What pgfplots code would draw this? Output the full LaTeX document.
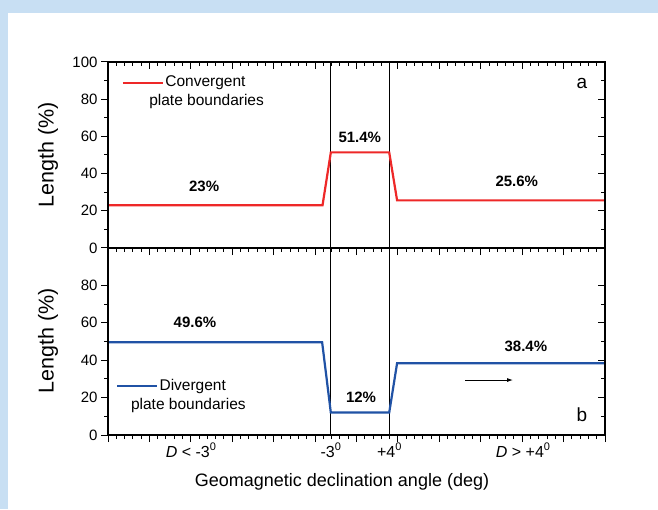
\documentclass[border=0pt]{standalone}
\usepackage{fontspec}
\setmainfont{Liberation Sans}
\usepackage{pgfplots}
\pgfplotsset{compat=1.18}
\usetikzlibrary{arrows.meta}

\definecolor{bgblue}{RGB}{200,223,243}
\definecolor{convred}{RGB}{238,40,40}
\definecolor{divblue}{RGB}{32,82,165}

\newcommand{\supzero}{\raisebox{0.75ex}{\fontsize{11}{11}\selectfont 0}}

\pgfplotsset{
  panel/.style={
    scale only axis, width=497pt, anchor=south west,
    xmin=0, xmax=12, ymin=0, ymax=100,
    xtick={0,...,12}, minor x tick num=4,
    minor y tick num=1,
    clip mode=individual,
    axis line style={line width=1.2pt},
    every tick/.style={black, line width=1pt},
    major tick length=7pt, minor tick length=4pt,
    tick label style={font=\fontsize{15}{17}\selectfont},
    /pgf/number format/assume math mode=true,
  },
  datapanel/.style={panel, xtick pos=bottom, ytick pos=left,
    tick align=outside, xticklabels={}},
  decopanel/.style={panel, xtick pos=top, ytick pos=right,
    tick align=inside, xticklabels={}, yticklabels={}},
}

\begin{document}
\begin{tikzpicture}
\useasboundingbox (0,0) rectangle (658pt,509pt);
\fill[bgblue] (0,0) rectangle (658pt,509pt);
\fill[white] (8pt,0) rectangle (658pt,496pt);

% --- top panel (a): convergent boundaries ---
\begin{axis}[datapanel, at={(108pt,261pt)}, height=186pt,
  ytick={0,20,40,60,80,100}]
\addplot[black, line width=0.7pt] coordinates {(5.38,0)(5.38,100)};
\addplot[black, line width=0.7pt] coordinates {(6.79,0)(6.79,100)};
\addplot[convred, line width=2.2pt] coordinates {(0,23)(5.18,23)(5.38,51.4)(6.79,51.4)(6.98,25.6)(12,25.6)};
\draw[convred, line width=2.2pt] (axis cs:0.36,88.7) -- (axis cs:1.33,88.7);
\node[anchor=west, font=\fontsize{15.5}{17}\selectfont, inner sep=0pt] at (axis cs:1.38,88.7) {Convergent};
\node[font=\fontsize{15.5}{17}\selectfont, inner sep=0pt] at (axis cs:2.38,78.5) {plate boundaries};
\node[font=\bfseries\fontsize{15}{17}\selectfont] at (axis cs:2.32,33.3) {23\%};
\node[font=\bfseries\fontsize{15}{17}\selectfont] at (axis cs:6.08,59.7) {51.4\%};
\node[font=\bfseries\fontsize{15}{17}\selectfont] at (axis cs:9.87,36) {25.6\%};
\node[font=\fontsize{19}{21}\selectfont] at (axis cs:11.44,88.7) {a};
\end{axis}
\begin{axis}[decopanel, at={(108pt,261pt)}, height=186pt,
  ytick={0,20,40,60,80,100}]
\end{axis}

% --- bottom panel (b): divergent boundaries ---
\begin{axis}[datapanel, at={(108pt,74pt)}, height=187pt,
  ytick={0,20,40,60,80}]
\addplot[black, line width=0.7pt] coordinates {(5.38,0)(5.38,100)};
\addplot[black, line width=0.7pt] coordinates {(6.79,0)(6.79,100)};
\addplot[divblue, line width=2.2pt] coordinates {(0,49.6)(5.17,49.6)(5.38,12)(6.79,12)(6.98,38.4)(12,38.4)};
\draw[divblue, line width=2.2pt] (axis cs:0.22,26.2) -- (axis cs:1.18,26.2);
\node[anchor=west, font=\fontsize{15.5}{17}\selectfont, inner sep=0pt] at (axis cs:1.24,26.2) {Divergent};
\node[font=\fontsize{15.5}{17}\selectfont, inner sep=0pt] at (axis cs:1.94,16) {plate boundaries};
\node[font=\bfseries\fontsize{15}{17}\selectfont] at (axis cs:2.10,60.4) {49.6\%};
\node[font=\bfseries\fontsize{15}{17}\selectfont] at (axis cs:6.11,20.3) {12\%};
\node[font=\bfseries\fontsize{15}{17}\selectfont] at (axis cs:10.09,47.6) {38.4\%};
\node[font=\fontsize{19}{21}\selectfont] at (axis cs:11.44,10.7) {b};
\draw[black, line width=0.9pt, -{Latex[length=6pt,width=4pt]}] (axis cs:8.62,29.4) -- (axis cs:9.78,29.4);
% category labels under the axis
\begin{scope}[every node/.style={font=\fontsize{16}{18}\selectfont, anchor=base, inner sep=0pt}]
\node at ([yshift=-22pt]axis cs:2.00,0) {\textit{D} < -3\supzero};
\node at ([yshift=-22pt]axis cs:5.38,0) {-3\supzero};
\node at ([yshift=-22pt]axis cs:6.79,0) {+4\supzero};
\node at ([yshift=-22pt]axis cs:10.02,0) {\textit{D} > +4\supzero};
\end{scope}
\end{axis}
\begin{axis}[decopanel, at={(108pt,74pt)}, height=187pt,
  ytick={0,20,40,60,80}]
\end{axis}

% axis titles
\node[rotate=90, font=\fontsize{21.5}{23}\selectfont] at (48pt,354pt) {Length (\%)};
\node[rotate=90, font=\fontsize{21.5}{23}\selectfont] at (48pt,168pt) {Length (\%)};
\node[font=\fontsize{18}{20}\selectfont] at (342pt,27pt) {Geomagnetic declination angle (deg)};
\end{tikzpicture}
\end{document}
